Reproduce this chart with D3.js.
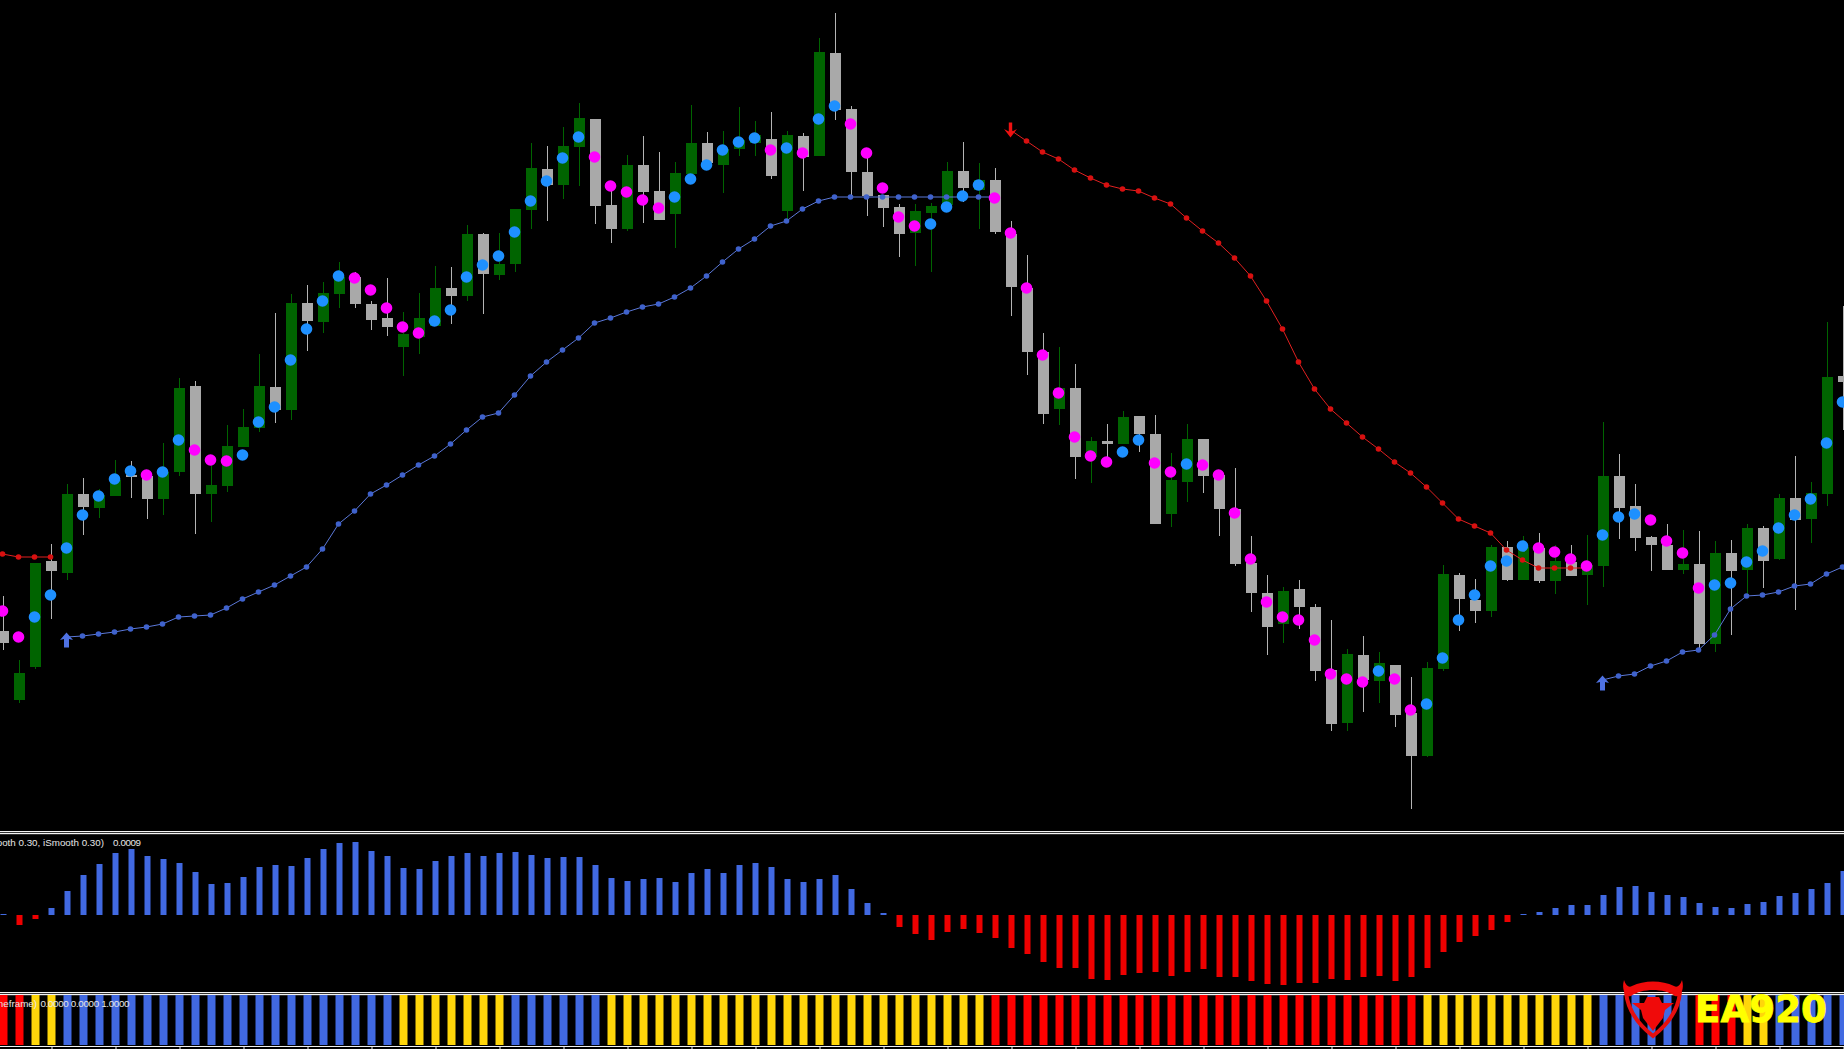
<!DOCTYPE html>
<html>
<head>
<meta charset="utf-8">
<script src="https://cdn.jsdelivr.net/npm/d3@7/dist/d3.min.js"></script>
<style>
html,body{margin:0;padding:0;background:#000;overflow:hidden}
svg{display:block}
</style>
</head>
<body>
<svg id="chart" width="1844" height="1049"></svg>
<script>
// Candle values, in points
const opens = [369,300,333,439,427,506,492,504,525,524,501,528,614,506,514,553,572,613,590,697,678,706,723,696,682,653,663,674,712,704,766,725,736,790,831,815,853,881,795,771,835,809,786,826,857,835,851,857,861,789,864,844,947,891,828,805,793,767,787,795,829,810,820,766,712,648,591,612,543,559,556,584,566,486,518,561,525,491,437,407,376,411,393,330,277,345,319,335,287,244,331,425,400,389,453,420,452,419,438,425,434,524,494,463,455,430,436,356,447,430,472,441,502,481,506,624];
const highs = [404,340,437,456,516,522,511,540,539,524,557,622,619,539,575,591,646,687,706,715,718,738,728,699,722,688,707,734,733,775,767,767,791,857,854,873,897,881,814,845,864,848,838,895,868,869,893,879,888,869,867,962,987,894,842,805,796,796,797,838,858,837,832,779,745,667,653,636,563,576,589,584,585,547,576,561,525,532,464,425,413,420,396,380,351,364,348,335,323,338,435,427,421,455,459,464,467,455,455,465,578,546,516,464,476,470,469,459,460,476,474,506,544,518,678,694];
const lows = [350,297,331,381,420,465,482,504,502,481,485,524,466,478,508,553,568,577,580,649,667,692,692,670,664,624,646,674,676,699,686,720,728,771,779,801,814,776,757,769,777,780,752,826,833,807,844,844,821,780,809,844,880,803,784,773,743,734,728,795,798,771,766,684,625,576,575,521,517,537,556,548,476,473,498,507,464,434,388,345,357,371,319,269,269,288,297,273,191,243,329,369,377,383,419,420,417,406,424,395,413,461,449,429,430,426,352,348,365,405,412,440,390,457,494,570];
const closes = [357,327,437,429,506,493,505,520,523,501,528,612,506,515,554,573,614,590,697,679,707,723,696,680,673,666,682,712,704,766,726,736,791,832,815,854,882,794,771,835,808,780,827,857,837,851,860,865,824,865,843,948,890,828,804,792,766,789,794,829,812,820,768,713,648,586,612,543,559,556,583,566,476,520,561,524,491,436,407,373,409,393,329,276,346,320,337,285,244,332,426,401,389,453,420,453,419,439,424,435,524,492,462,455,430,436,356,447,429,472,439,502,480,507,623,618];

// Signal dots
const signalValues = [389,363,383,405,452,485,504,521,529,525,528,560,550,540,539,545,578,593,640,671,699,724,722,710,692,673,667,679,690,723,735,744,768,799,819,842,863,843,814,808,800,792,803,821,835,850,858,862,850,852,847,881,894,876,847,812,783,774,776,793,804,815,802,767,712,645,607,563,544,538,548,560,537,528,536,535,525,487,441,398,383,380,360,326,321,318,329,321,290,296,342,380,405,434,439,454,452,448,441,434,465,483,486,480,459,447,412,415,417,438,449,472,485,501,557,598];
const signalKinds = ("MMBBBBBBBM"+"BBMMMBBBBB"+"BBMMMMMBBB"+"BBBBBBBMMM"+"MMBBBBBBMB"+"MBBMMMMMBB"+"BBMMMMMMMM"+"BBMMBMMMMM"+"MMMMMMBMMB"+"BBBBBBMMMM"+"BBBMMMMBBB"+"BBBBBB").split("");

// Trailing stop lines (first bar index + values)
const blueTrailAStart = 4;
const blueTrailA = [363,364,366,368,371,373,376,383,384,385,392,401,408,415,424,433,451,476,489,506,515,525,535,544,556,570,583,587,605,624,638,650,662,677,682,688,693,696,703,712,724,738,751,761,774,779,791,799,803,803,803,803,803,803,803,803,803,803,803];
const blueTrailBStart = 100;
const blueTrailB = [320,324,326,334,339,348,350,365,391,404,405,408,414,416,426,433];
const redTrailAStart = 0;
const redTrailA = [446,443,443,443];
const redTrailBStart = 63;
const redTrailB = [870,859,848,841,830,822,815,811,809,802,796,782,769,757,742,724,699,671,638,611,591,577,563,551,538,527,513,497,481,474,467,450,440,432,432,432,432];

// Momentum histogram
const histValues = [1,-10,-4,7,24,40,51,62,66,59,56,52,43,31,32,38,48,50,49,57,66,72,73,64,59,47,46,54,59,62,59,62,63,60,57,58,58,50,37,34,36,37,33,42,46,42,50,52,48,36,33,36,40,26,12,2,-12,-19,-25,-17,-14,-18,-23,-33,-39,-47,-53,-53,-64,-65,-60,-58,-57,-61,-57,-54,-62,-62,-66,-69,-70,-68,-68,-64,-65,-62,-61,-66,-62,-53,-37,-27,-21,-15,-7,1,3,7,10,10,20,28,29,23,20,18,12,8,7,11,13,19,22,26,32,44];

// Timeframe state row
const stateKinds = ("RRYYBBBBBB"+"BBBBBBBBBB"+"BBBBBYYYYY"+"YYBBBBBBYY"+"YYYYYYYYYY"+"YYYYYYYYYY"+"YYRRRRRRRR"+"RRRRRRRRRR"+"RRRRRRRRRY"+"YYYYYYYYYY"+"BBBBBBRRRY"+"YBBBBB").split("");

// Labels
const histLabel = "ooth 0.30, iSmooth 0.30)";
const histReading = "0.0009";
const stateLabel = "neframe)";
const stateReading = "0.0000 0.0000 1.0000";
const brandName = "EA920";

const W = 1844, H = 1049;
const svg = d3.select("#chart");
svg.append("rect").attr("width", W).attr("height", H).attr("fill", "#000");

const barIdx = d3.range(opens.length);
const x = d3.scaleLinear().domain([0, 115]).range([3.5, 1843.5]);
const y = d3.scaleLinear().domain([0, 1000]).range([1000, 0]);
const h = d3.scaleLinear().domain([-100, 100]).range([1015, 815]);

const GREEN = "#006400", GREY = "#a9a9a9", ROYAL = "#4169e1", RED = "#ee0000";

// Candles
const candles = svg.append("g");
candles.selectAll("rect.wick").data(barIdx).join("rect").attr("class", "wick")
  .attr("x", i => x(i) - 0.5).attr("width", 1)
  .attr("y", i => y(highs[i])).attr("height", i => y(lows[i]) - y(highs[i]))
  .attr("fill", i => closes[i] > opens[i] ? GREEN : "#b4b4b4");
candles.selectAll("rect.body").data(barIdx).join("rect").attr("class", "body")
  .attr("x", i => x(i) - 5.5).attr("width", 11)
  .attr("y", i => y(Math.max(opens[i], closes[i])))
  .attr("height", i => Math.max(1, Math.abs(y(opens[i]) - y(closes[i]))))
  .attr("fill", i => closes[i] > opens[i] ? GREEN : GREY);

// Trailing lines with small dots
function trail(values, start, color, lineColor, skipFirst) {
  const g = svg.append("g");
  const line = d3.line().x((d, k) => x(k + start) - 1).y(d => y(d));
  g.append("path").attr("d", line(values)).attr("fill", "none")
    .attr("stroke", lineColor).attr("stroke-width", 1);
  g.selectAll("circle").data(skipFirst ? values.slice(1) : values).join("circle")
    .attr("cx", (d, k) => x(k + start + (skipFirst ? 1 : 0)) - 1)
    .attr("cy", d => y(d)).attr("r", 2.8).attr("fill", color);
}
trail(blueTrailA, blueTrailAStart, "#3f62cc", "#5b78d8", true);
trail(blueTrailB, blueTrailBStart, "#3f62cc", "#5b78d8", true);
trail(redTrailA, redTrailAStart, "#d81010", "#e02020", false);
trail(redTrailB, redTrailBStart, "#d81010", "#e02020", true);

// Entry arrows
const upArrow = "M0,-7.5 L6.5,0 L2.5,-1 L2.5,7.5 L-2.5,7.5 L-2.5,-1 L-6.5,0 Z";
const downArrow = "M0,7.5 L6.5,-1 L1.7,1.5 L1.7,-7.5 L-1.7,-7.5 L-1.7,1.5 L-6.5,-1 Z";
[[blueTrailAStart, blueTrailA[0], upArrow, "#4f72e3", 3],
 [blueTrailBStart, blueTrailB[0], upArrow, "#4f72e3", 3]].forEach(a => {
  svg.append("path").attr("d", a[2]).attr("fill", a[3])
    .attr("transform", `translate(${x(a[0]) - 1},${y(a[1]) + a[4]})`);
});
svg.append("path").attr("d", downArrow).attr("fill", "#ee1111")
  .attr("transform", `translate(${x(redTrailBStart) - 1},${y(redTrailB[0])})`);

// Signal dots
svg.append("g").selectAll("circle").data(barIdx).join("circle")
  .attr("cx", i => x(i) - 1).attr("cy", i => y(signalValues[i])).attr("r", 5.8)
  .attr("fill", i => signalKinds[i] === "B" ? "#1e90ff" : "#ff00ff");

// Dividers
[831, 833, 992, 994].forEach(py => {
  svg.append("rect").attr("x", 0).attr("y", py).attr("width", W).attr("height", 1.2).attr("fill", "#f2f2f2");
});

// Histogram
svg.append("g").selectAll("rect").data(barIdx).join("rect")
  .attr("x", i => x(i) - 3).attr("width", 6)
  .attr("y", i => Math.min(h(0), h(histValues[i])))
  .attr("height", i => Math.abs(h(histValues[i]) - h(0)))
  .attr("fill", i => histValues[i] >= 0 ? ROYAL : RED);

// State bars
const stateColor = {R: "#ff0000", Y: "#ffd60a", B: ROYAL};
svg.append("g").selectAll("rect").data(barIdx).join("rect")
  .attr("x", i => x(i) - 4).attr("width", 8)
  .attr("y", 995).attr("height", 50)
  .attr("fill", i => stateColor[stateKinds[i]]);

// Time axis
const axis = d3.axisBottom(x)
  .tickValues(barIdx.filter(i => i % 4 === 3))
  .tickSize(3).tickSizeOuter(0).tickFormat("");
const axisG = svg.append("g").attr("transform", "translate(0,1046.5)").call(axis);
axisG.selectAll("path,line").attr("stroke", "#f0f0f0");
axisG.select("path.domain").attr("d", `M0,0H${W}`);

// Pane labels
const fontFam = "'Liberation Sans', Arial, sans-serif";
function label(px, py, str, anchor, len) {
  const t = svg.append("text").attr("x", px).attr("y", py).attr("fill", "#e6e6e6")
    .attr("font-family", fontFam).attr("font-size", 9.8)
    .attr("text-anchor", anchor).text(str);
  if (len) t.attr("textLength", len);
}
label(104, 846, histLabel, "end");
label(113, 846, histReading, "start", 28);
label(37, 1007, stateLabel, "end");
label(40.5, 1007, stateReading, "start", 89);

// Watermark logo
const logo = svg.append("g");
logo.append("path").attr("d", "M1626,992 C1628,1014 1644,1029 1653,1036 C1662,1029 1678,1014 1680,992")
  .attr("fill", "none").attr("stroke", "#e60f0f").attr("stroke-width", 4);
logo.append("path").attr("d", "M1624,980 C1621,990 1626,998 1631,996 C1642,988 1664,988 1675,996 C1680,998 1685,990 1682,980 C1680,986 1677,988 1674,986 C1662,980 1644,980 1632,986 C1629,988 1626,986 1624,980 Z")
  .attr("fill", "#f00a0a");
logo.append("path").attr("d", "M1632,1003 L1644,1003 L1647,997 L1659,997 L1662,1003 L1674,1003 L1665,1010 L1663,1018 L1653,1031 L1643,1018 L1641,1010 Z")
  .attr("fill", "#f00a0a");
svg.append("text").attr("x", 1695).attr("y", 1022)
  .attr("fill", "#ffff00").attr("stroke", "#ffff00").attr("stroke-width", 0.8)
  .attr("font-family", "'DejaVu Sans', sans-serif").attr("font-weight", "bold")
  .attr("font-size", 37).attr("textLength", 132).attr("lengthAdjust", "spacingAndGlyphs")
  .text(brandName);
</script>
</body>
</html>
